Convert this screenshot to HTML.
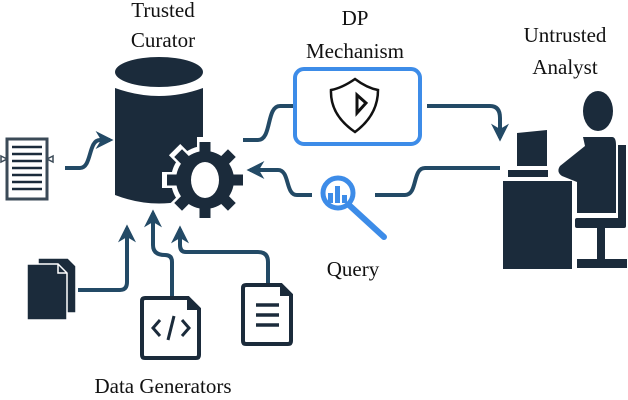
<!DOCTYPE html>
<html><head><style>
html,body{margin:0;padding:0;background:#fff;}
svg{display:block;}
text{font-family:"Liberation Serif",serif;font-size:21px;fill:#111;}
</style></head><body>
<svg width="628" height="400" viewBox="0 0 628 400" xmlns="http://www.w3.org/2000/svg">
<defs>
<marker id="ah" viewBox="0 0 10 10" refX="8" refY="5" markerWidth="4.5" markerHeight="4.5" orient="auto"><path d="M0,0 L10,5 L0,10 L3,5 Z" fill="#234a66"/></marker>
</defs>
<text x="163" y="17" text-anchor="middle">Trusted</text>
<text x="163" y="47" text-anchor="middle">Curator</text>
<text x="355" y="25" text-anchor="middle">DP</text>
<text x="355" y="58" text-anchor="middle">Mechanism</text>
<text x="565" y="42" text-anchor="middle">Untrusted</text>
<text x="565" y="74" text-anchor="middle">Analyst</text>
<text x="353" y="276" text-anchor="middle">Query</text>
<text x="163" y="393" text-anchor="middle">Data Generators</text>

<g fill="none" stroke="#234a66" stroke-width="4">
<path d="M65,168 H80 C92,168 88,140 100,140 H110" marker-end="url(#ah)"/>
<path d="M243,140 H258 C272,140 266,106 280,106 H293"/>
<path d="M427,106 H490 Q500,106 500,118 V138" marker-end="url(#ah)"/>
<path d="M500,168 H425 C412,168 418,195 405,195 H375"/>
<path d="M312,195 H297 C285,195 290,170 278,170 H250" marker-end="url(#ah)"/>
<path d="M78,290 H120 Q127,290 127,282 V228" marker-end="url(#ah)"/>
<path d="M172,297 V262 Q172,255 165,255 Q153,255 153,245 V213" marker-end="url(#ah)"/>
<path d="M268,283 V262 Q268,252 258,252 H186 Q180,252 180,245 V229" marker-end="url(#ah)"/>
</g>

<g fill="#1b2b3b">
<path d="M115,88 Q159,104 203,88 V195 Q159,212 115,195 Z"/>
<ellipse cx="159" cy="72" rx="44" ry="15"/>
</g>
<g transform="translate(205,180)">
<g fill="#fff">
<circle r="34"/>
<g id="teeth"><rect x="-8" y="-43" width="16" height="14"/></g>
<use href="#teeth" transform="rotate(45)"/><use href="#teeth" transform="rotate(90)"/><use href="#teeth" transform="rotate(135)"/><use href="#teeth" transform="rotate(180)"/><use href="#teeth" transform="rotate(225)"/><use href="#teeth" transform="rotate(270)"/><use href="#teeth" transform="rotate(315)"/>
</g>
<g fill="#1b2b3b">
<circle r="29"/>
<g id="t2"><rect x="-5.5" y="-38" width="11" height="12"/></g>
<use href="#t2" transform="rotate(45)"/><use href="#t2" transform="rotate(90)"/><use href="#t2" transform="rotate(135)"/><use href="#t2" transform="rotate(180)"/><use href="#t2" transform="rotate(225)"/><use href="#t2" transform="rotate(270)"/><use href="#t2" transform="rotate(315)"/>
</g>
<ellipse rx="14" ry="18" fill="#fff"/>
</g>

<rect x="7" y="139" width="40" height="60" fill="#fff" stroke="#3b4a57" stroke-width="3"/>
<g stroke="#1b2b3b" stroke-width="2.5">
<line x1="12" y1="147" x2="42" y2="147"/><line x1="12" y1="154" x2="42" y2="154"/><line x1="12" y1="161" x2="42" y2="161"/><line x1="12" y1="168" x2="42" y2="168"/><line x1="12" y1="175" x2="42" y2="175"/><line x1="12" y1="182" x2="42" y2="182"/><line x1="12" y1="189" x2="42" y2="189"/>
</g>
<path d="M1,156 L7,159 L1,162 Z M53,156 L47,159 L53,162 Z" fill="#fff" stroke="#3b4a57" stroke-width="1.5"/>

<rect x="295" y="69" width="125" height="75" rx="9" fill="#fff" stroke="#3d8ce8" stroke-width="4"/>
<path d="M355,79 Q342,88 331,90 Q330,115 355,132 Q378,115 378,90 Q367,88 355,79 Z" fill="none" stroke="#111" stroke-width="2.5"/>
<path d="M357,95 L357,113 L366,103 Z" fill="none" stroke="#111" stroke-width="3"/>

<circle cx="338" cy="193" r="15" fill="#fff" stroke="#3d8ce8" stroke-width="5"/>
<line x1="349" y1="205" x2="384" y2="237" stroke="#3d8ce8" stroke-width="6" stroke-linecap="round"/>
<rect x="328" y="193" width="5" height="10" fill="#3d8ce8"/><rect x="335" y="186" width="5" height="17" fill="#3d8ce8"/><rect x="342" y="195" width="5" height="8" fill="#3d8ce8"/>

<g fill="#1b2b3b">
<path d="M517,133 L547,130 V166 H517 Z"/>
<rect x="508" y="170" width="40" height="7"/>
<rect x="503" y="181" width="69" height="88"/>
<ellipse cx="598" cy="111" rx="15" ry="20"/>
<path d="M583,137 H612 Q616,137 616,145 V213 H577 V182 L562,176 Q556,172 560,166 L585,146 Z"/>
<rect x="618" y="145" width="8" height="78"/>
<rect x="575" y="218" width="51" height="10" rx="2"/>
<rect x="597" y="228" width="8" height="32"/>
<rect x="577" y="259" width="50" height="9"/>
</g>

<g fill="#1b2b3b" stroke="#fff" stroke-width="1.5">
<path d="M38,258 H68 L76,266 V313 H38 Z"/>
<path d="M27,264 H58 L67,273 V320 H27 Z"/>
</g>
<path d="M58,264 V273 H67" fill="none" stroke="#fff" stroke-width="1.5"/>

<path d="M145,298 H188 L199,309 V355 Q199,358 196,358 H145 Q142,358 142,355 V301 Q142,298 145,298 Z" fill="#fff" stroke="#1b2b3b" stroke-width="4"/>
<path d="M187,298 H188 L199,309 V310 H187 Z" fill="#1b2b3b"/>
<g fill="none" stroke="#1b2b3b" stroke-width="3">
<path d="M160,320 L153,328 L160,336"/><path d="M182,320 L189,328 L182,336"/><path d="M174,316 L168,340"/>
</g>

<path d="M246,285 H281 L291,295 V341 Q291,344 288,344 H246 Q243,344 243,341 V288 Q243,285 246,285 Z" fill="#fff" stroke="#1b2b3b" stroke-width="4"/>
<path d="M280,285 L291,296 H280 Z" fill="#1b2b3b"/>
<g stroke="#1b2b3b" stroke-width="3.5">
<line x1="256" y1="305" x2="279" y2="305"/><line x1="256" y1="315" x2="279" y2="315"/><line x1="256" y1="325" x2="279" y2="325"/>
</g>
</svg>
</body></html>
